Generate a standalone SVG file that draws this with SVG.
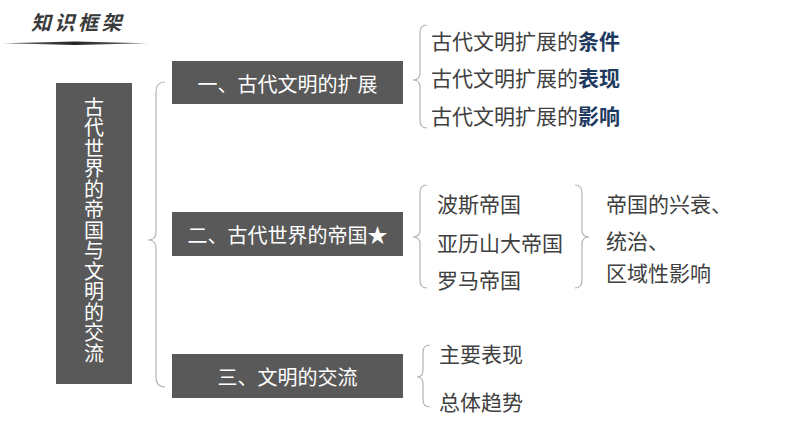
<svg xmlns="http://www.w3.org/2000/svg" width="794" height="447" viewBox="0 0 794 447">
<style>
.t{font-family:"Noto Sans CJK SC","Noto Sans",sans-serif;}
.box{fill:#595959;}
.bt{fill:#ffffff;font-size:20px;text-anchor:middle;}
.it{fill:#404040;font-size:21px;}
.em{fill:#1f3a5f;font-weight:bold;}
.br{fill:none;stroke:#b3b3b3;stroke-width:1.2;}
</style>
<defs>
<linearGradient id="ul" x1="0" x2="1" y1="0" y2="0">
<stop offset="0" stop-color="#777"/>
<stop offset="0.5" stop-color="#222"/>
<stop offset="1" stop-color="#777"/>
</linearGradient>
</defs>
<rect width="794" height="447" fill="#ffffff"/>
<g id="title">
<text class="t" x="31" y="30" font-size="20" font-weight="bold" letter-spacing="3.5" fill="#3a3a3a" font-style="italic">知识框架</text>
<polygon points="2,43.2 75,41.4 148,43.2 75,45" fill="url(#ul)"/>
</g>
<g id="root">
<rect class="box" x="56" y="83" width="76" height="301"/>
<text class="t" x="94" y="97" fill="#ffffff" font-size="20" writing-mode="vertical-rl" letter-spacing="0.5">古代世界的帝国与文明的交流</text>
</g>
<g id="n1">
<rect class="box" x="172" y="61" width="231" height="43"/>
<text class="t bt" x="287.5" y="92">一、古代文明的扩展</text>
</g>
<g id="n2">
<rect class="box" x="172" y="212" width="231" height="44"/>
<text class="t bt" x="287.5" y="243">二、古代世界的帝国★</text>
</g>
<g id="n3">
<rect class="box" x="172" y="354" width="231" height="44"/>
<text class="t bt" x="287.5" y="385">三、文明的交流</text>
</g>
<g id="n1items">
<text class="t it" x="431" y="49">古代文明扩展的<tspan class="em">条件</tspan></text>
<text class="t it" x="431" y="86">古代文明扩展的<tspan class="em">表现</tspan></text>
<text class="t it" x="431" y="124">古代文明扩展的<tspan class="em">影响</tspan></text>
</g>
<g id="n2items">
<text class="t it" x="437" y="212">波斯帝国</text>
<text class="t it" x="437" y="251">亚历山大帝国</text>
<text class="t it" x="437" y="288">罗马帝国</text>
</g>
<g id="n2result">
<text class="t it" x="606" y="212" font-size="19.5">帝国的兴衰、</text>
<text class="t it" x="606" y="249" font-size="19.5">统治、</text>
<text class="t it" x="606" y="281" font-size="19.5">区域性影响</text>
</g>
<g id="n3items">
<text class="t it" x="439" y="362">主要表现</text>
<text class="t it" x="439" y="410">总体趋势</text>
</g>
<g id="connectors">
<path class="br" d="M165,82 Q156,82 156,92 L156,232 Q156,240 148,240 Q156,240 156,248 L156,377 Q156,387 165,387"/>
<path class="br" d="M427,25 Q420,25 420,33 L420,73 Q420,80 413,80 Q420,80 420,87 L420,120 Q420,128 427,128"/>
<path class="br" d="M427,185 Q420,185 420,193 L420,230 Q420,237 413,237 Q420,237 420,244 L420,280 Q420,288 427,288"/>
<path class="br" d="M575,185 Q582,185 582,193 L582,230 Q582,237 589,237 Q582,237 582,244 L582,280 Q582,288 575,288"/>
<path class="br" d="M430,345 Q423,345 423,352 L423,370 Q423,377 417,377 Q423,377 423,384 L423,400 Q423,407 430,407"/>
</g>
</svg>
